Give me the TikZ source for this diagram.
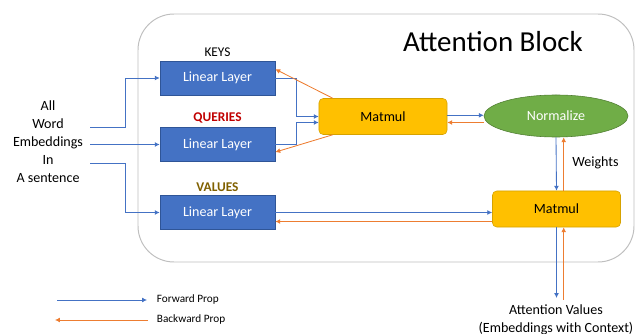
\documentclass[tikz,border=0pt]{standalone}
\usepackage{fontspec}
\setmainfont{Carlito}
\usetikzlibrary{arrows.meta,shapes.geometric}
\definecolor{fwdblue}{HTML}{4472C4}
\definecolor{bwdorange}{HTML}{ED7D31}
\definecolor{layerblue}{HTML}{4472C4}
\definecolor{layeredge}{HTML}{2F5597}
\definecolor{mmgold}{HTML}{FFC000}
\definecolor{mmedge}{HTML}{D6A200}
\definecolor{normgreen}{HTML}{70AD47}
\definecolor{normedge}{HTML}{507E32}
\definecolor{qred}{HTML}{C00000}
\definecolor{vgold}{HTML}{806000}
\definecolor{blockgray}{HTML}{BFBFBF}

\begin{document}
\begin{tikzpicture}[x=0.025cm,y=-0.025cm,>={Latex[length=3.5pt,width=3.5pt]},
  layer node/.style={draw=layeredge,fill=layerblue,text=white,inner sep=0pt,
    minimum width=2.875cm,minimum height=0.86cm,font=\fontsize{10}{12}\selectfont},
  matmul node/.style={draw=mmedge,fill=mmgold,rounded corners=3pt,inner sep=0pt,
    minimum width=3.2cm,minimum height=0.9cm,font=\fontsize{10}{12}\selectfont},
  head label/.style={font=\fontsize{9.5}{11}\selectfont},
  plain text/.style={font=\fontsize{10}{12.8}\selectfont,align=center,inner sep=0pt},
  legend text/.style={font=\fontsize{8}{9}\selectfont,anchor=west},
  fwd/.style={->,draw=fwdblue,line width=0.6pt},
  bwd/.style={->,draw=bwdorange,line width=0.6pt}]

  \useasboundingbox (0,0) rectangle (638,334);
  \draw[blockgray,line width=0.7pt,rounded corners=0.9cm] (138,14) rectangle (634,262);
  \node[font=\fontsize{20.6}{24}\selectfont] (title) at (493,42) {Attention Block};

  \node[plain text] (words) at (48,142) {All\\Word\\Embeddings\\In\\A sentence};

  \node[layer node] (keys) at (217.5,78) {Linear Layer};
  \node[layer node] (queries) at (217.5,144.5) {Linear Layer};
  \node[layer node] (values) at (217.5,212.5) {Linear Layer};
  \node[head label] (keyslbl) at (217.5,52) {KEYS};
  \node[head label,text=qred] (querieslbl) at (217.5,118) {\bfseries QUERIES};
  \node[head label,text=vgold] (valueslbl) at (217.5,187) {\bfseries VALUES};

  \node[matmul node] (mm1) at (383,116.5) {Matmul};
  \node[ellipse,draw=normedge,fill=normgreen,text=white,inner sep=0pt,
    minimum width=3.6cm,minimum height=1.05cm,
    font=\fontsize{10}{12}\selectfont] (norm) at (556,116) {Normalize};
  \node[matmul node] (mm2) at (556.5,209) {Matmul};

  \node[plain text,anchor=west] (weights) at (572,163) {Weights};
  \node[plain text,anchor=north] (out) at (556,304)
    {Attention Values\\(Embeddings with Context)};

  \coordinate (inK) at (90,127);
  \coordinate (inQ) at (90,144.5);
  \coordinate (inV) at (90,163);
  \draw[fwd] (inK) -- ++(35,0) |- (keys.west);
  \draw[fwd] (inQ) -- (queries.west);
  \draw[fwd] (inV) -- ++(35,0) |- (values.west);

  \draw[fwd] (keys.east) -- ++(21,0) |- (mm1.west);
  \draw[fwd] (queries.east) -- ++(21,0) |- ([yshift=-0.15cm]mm1.west);
  \draw[bwd] ([xshift=0.35cm]mm1.north west) -- ([yshift=0.22cm]keys.east);
  \draw[bwd] ([xshift=0.35cm]mm1.south west) -- ([yshift=-0.19cm]queries.east);

  \draw[fwd] ([yshift=0.03cm]mm1.east) -- ([yshift=0.03cm]mm1.east -| norm.west);
  \coordinate (nBack) at ([yshift=-0.15cm]mm1.east);
  \draw[bwd] (nBack -| norm.west) -- (nBack);

  \coordinate (wUp) at ([xshift=0.18cm]mm2.north);
  \draw[fwd] (norm.south) -- (mm2.north);
  \draw[bwd] (wUp) -- (wUp |- norm.south);

  \draw[fwd] (values.east) -- (values.east -| mm2.west);
  \coordinate (vBack) at ([yshift=-0.225cm]values.east);
  \draw[bwd] (vBack -| mm2.west) -- (vBack);

  \coordinate (oUp) at ([xshift=0.18cm]mm2.south);
  \draw[fwd] (mm2.south) -- ([yshift=0.15cm]mm2.south |- out.north);
  \draw[bwd] ([yshift=0.1cm]oUp |- out.north) -- (oUp);

  \coordinate (fwdA) at (57,300);
  \coordinate (fwdB) at (147,300);
  \coordinate (bwdA) at (148,320);
  \coordinate (bwdB) at (55,320);
  \draw[fwd] (fwdA) -- (fwdB);
  \draw[bwd] (bwdA) -- (bwdB);
  \node[legend text] (fwdlbl) at (152,299) {Forward Prop};
  \node[legend text] (bwdlbl) at (152,319) {Backward Prop};

\end{tikzpicture}
\end{document}
